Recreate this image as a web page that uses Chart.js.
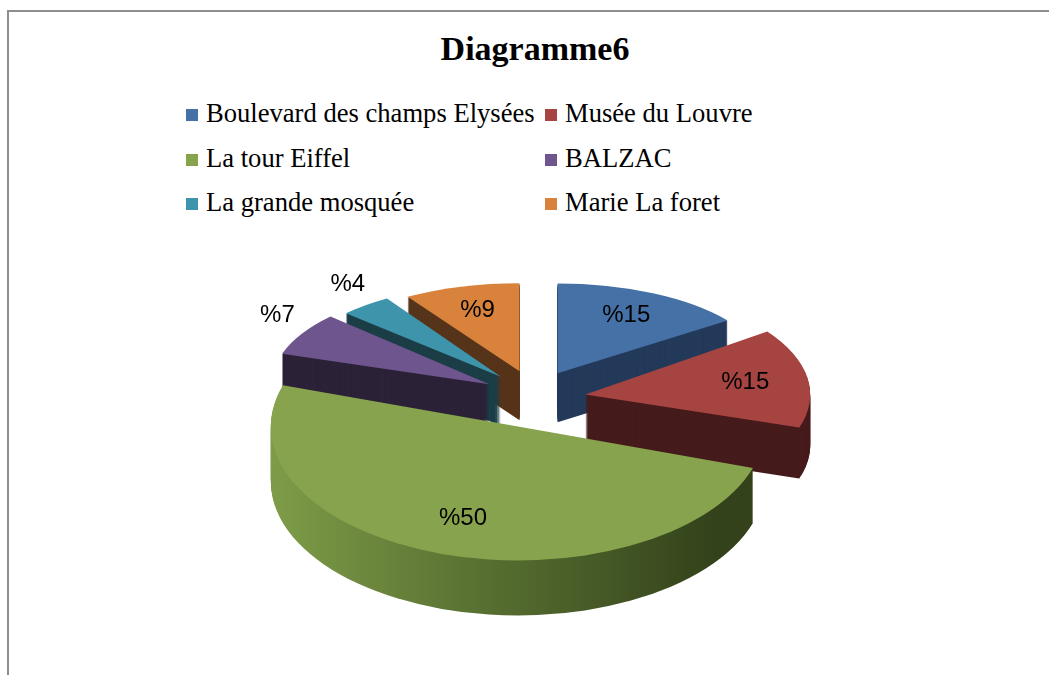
<!DOCTYPE html>
<html>
<head>
<meta charset="utf-8">
<script src="https://cdn.jsdelivr.net/npm/chart.js@4"></script>
<style>
  html, body { margin: 0; padding: 0; background: #fff; }
  #wrap { position: relative; width: 1049px; height: 675px; overflow: hidden; }
  #frame {
    position: absolute; left: 7px; top: 10px; width: 1100px; height: 700px;
    border-left: 2px solid #8e8e8e; border-top: 2px solid #8e8e8e;
  }
  #title {
    position: absolute; left: 0; width: 1070px; top: 30px; text-align: center;
    font: bold 34px "Liberation Serif", "Times New Roman", serif; color: #000;
  }
  #legend { position: absolute; left: 186px; top: 98px; }
  .item {
    position: absolute; white-space: nowrap;
    font: 26.6px "Liberation Serif", "Times New Roman", serif; color: #000;
  }
  .item span.sw {
    position: absolute; left: 0; top: 11px; width: 12px; height: 12px;
  }
  .item span.tx { position: absolute; left: 20px; top: 0; }
  canvas { position: absolute; left: 0; top: 0; }
</style>
</head>
<body>
<div id="wrap">
  <div id="frame"></div>
  <div id="title">Diagramme6</div>
  <div id="legend"></div>
  <canvas id="chart" width="1049" height="675"></canvas>
</div>
<script>
// data
const labels = [
  "Boulevard des champs Elysées",
  "Musée du Louvre",
  "La tour Eiffel",
  "BALZAC",
  "La grande mosquée",
  "Marie La foret",
];
const values = [15, 15, 50, 7, 4, 9];

// top faces and darker sides
const topColors = ["#4571a6", "#a64441", "#87a34d", "#6e558e", "#3e94aa", "#d9823c"];
const sideColors = ["#243a5a", "#461b1b", null, "#2c2238", "#1c3e47", "#56341a"];

const TILT = 0.487;      // vertical squash of the pie
const DEPTH = 52;        // thickness in px
const EXPLODE_X = 52;    // slice pull-out
const EXPLODE_Y = 29;
const PERSP_X = 0.088;   // front slices drawn bigger than back ones
const PERSP_Y = 0.216;

// legend in two columns
const legend = document.getElementById("legend");
labels.forEach((name, i) => {
  const div = document.createElement("div");
  div.className = "item";
  div.style.left = (i % 2) * 359 + "px";
  div.style.top = Math.floor(i / 2) * 44.5 + "px";
  div.innerHTML = '<span class="sw"></span><span class="tx"></span>';
  div.querySelector(".sw").style.background = topColors[i];
  div.querySelector(".tx").textContent = name;
  legend.appendChild(div);
});

function sliceGeom(arc) {
  const mid = (arc.startAngle + arc.endAngle) / 2;
  const s = Math.sin(mid);
  return {
    mid,
    ox: arc.x + Math.cos(mid) * EXPLODE_X,
    oy: arc.y + s * EXPLODE_Y,
    rx: arc.outerRadius * (1 + PERSP_X * s),
    ry: arc.outerRadius * TILT * (1 + PERSP_Y * s),
    depth: DEPTH * (1 + 0.07 * s),
  };
}

const pie3d = {
  id: "pie3d",
  beforeDatasetsDraw(chart) {
    const ctx = chart.ctx;
    const arcs = chart.getDatasetMeta(0).data;
    // back slices first
    const order = arcs
      .map((a, i) => i)
      .sort(
        (a, b) =>
          Math.sin(sliceGeom(arcs[a]).mid) - Math.sin(sliceGeom(arcs[b]).mid),
      );

    order.forEach((i) => {
      const arc = arcs[i];
      const g = sliceGeom(arc);
      const path = (dy) => {
        ctx.beginPath();
        ctx.moveTo(g.ox, g.oy + dy);
        ctx.ellipse(g.ox, g.oy + dy, g.rx, g.ry, 0, arc.startAngle, arc.endAngle);
        ctx.closePath();
      };

      let side = sideColors[i];
      if (!side) {
        side = ctx.createLinearGradient(g.ox - g.rx, 0, g.ox + g.rx * 0.8, 0);
        side.addColorStop(0, "#7e9c48");
        side.addColorStop(0.45, "#5a7232");
        side.addColorStop(1, "#33421b");
      }
      ctx.save();
      ctx.fillStyle = side;
      for (let dy = Math.round(g.depth); dy > 0; dy--) {
        path(dy);
        ctx.fill();
      }
      ctx.fillStyle = topColors[i];
      path(0);
      ctx.fill();
      ctx.restore();
    });
    return false;
  },
  afterDraw(chart) {
    const ctx = chart.ctx;
    const arcs = chart.getDatasetMeta(0).data;
    ctx.save();
    ctx.font = '24px "Liberation Sans", Arial, sans-serif';
    ctx.fillStyle = "#000";
    ctx.textAlign = "center";
    ctx.textBaseline = "middle";
    arcs.forEach((arc, i) => {
      const g = sliceGeom(arc);
      const outside = values[i] < 8;
      const f = outside ? 1.13 : 0.72;
      const x = g.ox + Math.cos(g.mid) * g.rx * f;
      const y = g.oy + Math.sin(g.mid) * g.ry * f - (outside ? 12 : 0);
      ctx.fillText("%" + values[i], x, y);
    });
    ctx.restore();
  },
};

new Chart(document.getElementById("chart"), {
  type: "pie",
  data: {
    labels,
    datasets: [{ data: values, backgroundColor: topColors, borderWidth: 0 }],
  },
  options: {
    responsive: false,
    animation: false,
    events: [],
    radius: 228,
    layout: { padding: { left: 19, right: 0, top: 123, bottom: 0 } },
    plugins: {
      legend: { display: false },
      tooltip: { enabled: false },
    },
  },
  plugins: [pie3d],
});
</script>
</body>
</html>
